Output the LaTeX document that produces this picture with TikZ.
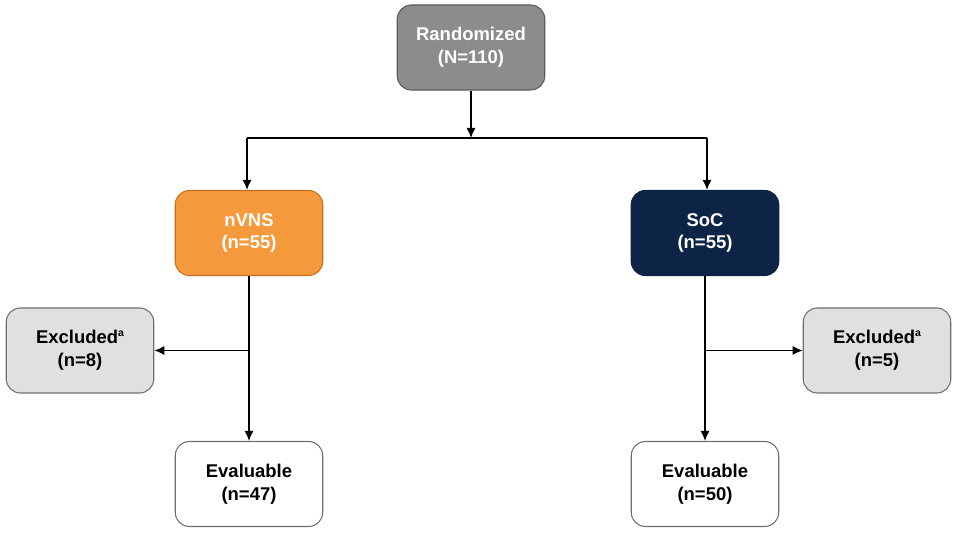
\documentclass[tikz,border=0pt]{standalone}
\usepackage{fontspec}
\setmainfont{Liberation Sans}
\usetikzlibrary{arrows.meta,calc,positioning}
\definecolor{flowgray}{RGB}{140,140,140}
\definecolor{flowgrayline}{RGB}{90,90,90}
\definecolor{flowlight}{RGB}{224,224,224}
\definecolor{floworange}{RGB}{244,154,60}
\definecolor{floworangeline}{RGB}{200,110,30}
\definecolor{flownavy}{RGB}{13,36,70}
\definecolor{flowedge}{RGB}{110,110,110}
\newcommand{\supa}{\raisebox{0.75ex}{\fontsize{6}{6}\selectfont a}}

\begin{document}
\begin{tikzpicture}[
      box/.style={rectangle, rounded corners=8pt, minimum width=2.95cm, minimum height=1.7cm, align=center, draw=flowedge, line width=0.6pt, font=\bfseries\fontsize{10.5}{13}\selectfont},
      arr/.style={-{Latex[length=2.0mm,width=1.8mm]}, line width=0.75pt, color=black},
      link/.style={line width=0.75pt, color=black}
    ]
      \useasboundingbox (0,0) rectangle (19.14,10.66);

      % Top: Randomized
      \node[box, fill=flowgray, draw=flowgrayline, text=white] (rand) at (9.42, 9.71) {Randomized\\(N=110)};

      % Arms
      \node[box, fill=floworange, draw=floworangeline, text=white] (nvns) at (4.98, 6.0) {nVNS\\(n=55)};
      \node[box, fill=flownavy, draw=flownavy, text=white] (soc) at (14.1, 6.0) {SoC\\(n=55)};

      % Exclusions
      \node[box, fill=flowlight] (exclL) at (1.6, 3.65) {Excluded\supa\\(n=8)};
      \node[box, fill=flowlight] (exclR) at (17.54, 3.65) {Excluded\supa\\(n=5)};

      % Evaluable
      \node[box, fill=white] (evalL) at (4.98, 0.98) {Evaluable\\(n=47)};
      \node[box, fill=white] (evalR) at (14.1, 0.98) {Evaluable\\(n=50)};

      % Split coordinates
      \coordinate (splitL) at (4.94, 7.9);
      \coordinate (splitR) at (14.14, 7.9);
      \coordinate (hub) at (rand.south |- splitL);
      \coordinate (brL) at (nvns.south |- exclL);
      \coordinate (brR) at (soc.south |- exclR);

      % Allocation
      \draw[arr] (rand) -- (hub);
      \draw[link] (splitL) -- (splitR);
      \draw[arr] (splitL) -- (splitL |- nvns.north);
      \draw[arr] (splitR) -- (splitR |- soc.north);

      % Follow-up
      \draw[arr] (nvns) -- (evalL);
      \draw[arr] (soc) -- (evalR);
      \draw[arr] (brL) -- (exclL);
      \draw[arr] (brR) -- (exclR);
    \end{tikzpicture}
\end{document}
